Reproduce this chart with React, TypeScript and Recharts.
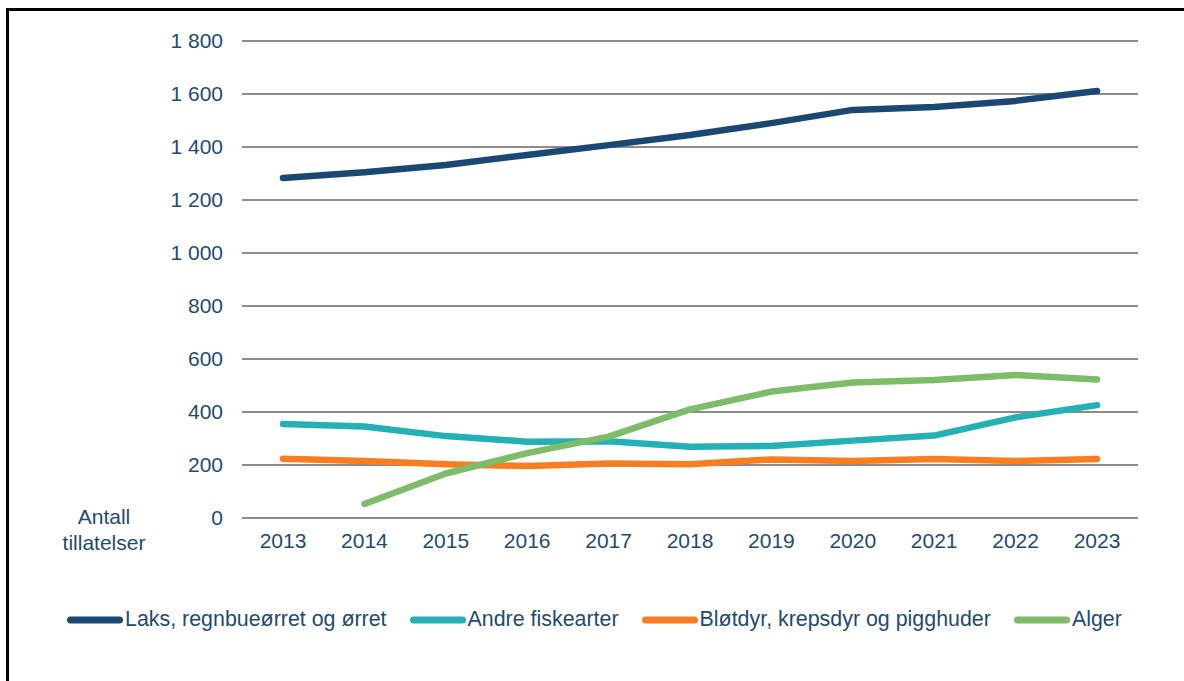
import React from 'react';
import {
  LineChart,
  Line,
  XAxis,
  YAxis,
  CartesianGrid,
  Label,
} from 'recharts';

const years = ['2013', '2014', '2015', '2016', '2017', '2018', '2019', '2020', '2021', '2022', '2023'];
const laks = [1283, 1305, 1332, 1370, 1407, 1445, 1490, 1540, 1551, 1574, 1611];
const andre = [355, 345, 309, 288, 290, 269, 272, 292, 311, 380, 426];
const blotdyr = [224, 215, 203, 196, 206, 203, 221, 215, 223, 215, 223];
const alger = [null, 53, 168, 245, 307, 410, 477, 511, 521, 540, 523];
const yTicks = [0, 200, 400, 600, 800, 1000, 1200, 1400, 1600, 1800];

const series = [
  { key: 'laks', name: 'Laks, regnbueørret og ørret', color: '#1B4872' },
  { key: 'andre', name: 'Andre fiskearter', color: '#24B0B4' },
  { key: 'blotdyr', name: 'Bløtdyr, krepsdyr og pigghuder', color: '#FB7D21' },
  { key: 'alger', name: 'Alger', color: '#7DBD69' },
];

const data = years.map((year, i) => ({
  year,
  laks: laks[i],
  andre: andre[i],
  blotdyr: blotdyr[i],
  alger: alger[i],
}));

const textColor = '#1F4A75';
const font = 'Arial, "Liberation Sans", sans-serif';

const formatTick = (v: number) =>
  v >= 1000 ? `${Math.floor(v / 1000)} ${String(v % 1000).padStart(3, '0')}` : String(v);

function ChartLegend() {
  return (
    <div
      style={{
        position: 'absolute',
        left: 67,
        top: 607,
        display: 'flex',
        alignItems: 'center',
        fontFamily: font,
        fontSize: 21.4,
        color: textColor,
        whiteSpace: 'nowrap',
      }}
    >
      {series.map((s, i) => (
        <div key={s.key} style={{ display: 'flex', alignItems: 'center', marginRight: i < series.length - 1 ? 23 : 0 }}>
          <svg width={56} height={10} style={{ marginRight: 2 }}>
            <line x1={3.5} y1={5} x2={52.5} y2={5} stroke={s.color} strokeWidth={7} strokeLinecap="round" />
          </svg>
          <span>{s.name}</span>
        </div>
      ))}
    </div>
  );
}

export default function App() {
  return (
    <div style={{ position: 'fixed', left: 0, top: 0, width: 1184, height: 681, overflow: 'hidden', background: '#fff' }}>
      <div
        style={{
          position: 'absolute',
          left: 6,
          top: 8,
          width: 1300,
          height: 800,
          border: '3px solid #000',
        }}
      />
      <div style={{ position: 'absolute', left: 0, top: 0 }}>
        <LineChart
          width={1184}
          height={681}
          data={data}
          margin={{ top: 41, right: 46, left: 0, bottom: 73 }}
        >
          <CartesianGrid vertical={false} stroke="#8C8C8C" strokeWidth={2} />
          <XAxis
            dataKey="year"
            axisLine={false}
            tickLine={false}
            tickSize={0}
            tickMargin={15}
            padding={{ left: 41, right: 41 }}
            height={90}
            tick={{ fill: textColor, fontSize: 21, fontFamily: font }}
          />
          <YAxis
            width={242}
            domain={[0, 1800]}
            ticks={yTicks}
            tickFormatter={formatTick}
            axisLine={false}
            tickLine={false}
            tickSize={0}
            tickMargin={19}
            tick={{ fill: textColor, fontSize: 21, fontFamily: font }}
          >
            <Label
              content={() => (
                <text x={104} textAnchor="middle" fill={textColor} fontSize={21} fontFamily={font}>
                  <tspan x={104} y={524}>Antall</tspan>
                  <tspan x={104} y={550}>tillatelser</tspan>
                </text>
              )}
            />
          </YAxis>
          {series.map((s) => (
            <Line
              key={s.key}
              type="linear"
              dataKey={s.key}
              name={s.name}
              stroke={s.color}
              strokeWidth={6.5}
              strokeLinecap="round"
              strokeLinejoin="round"
              dot={false}
              activeDot={false}
              isAnimationActive={false}
            />
          ))}
        </LineChart>
      </div>
      <ChartLegend />
    </div>
  );
}
